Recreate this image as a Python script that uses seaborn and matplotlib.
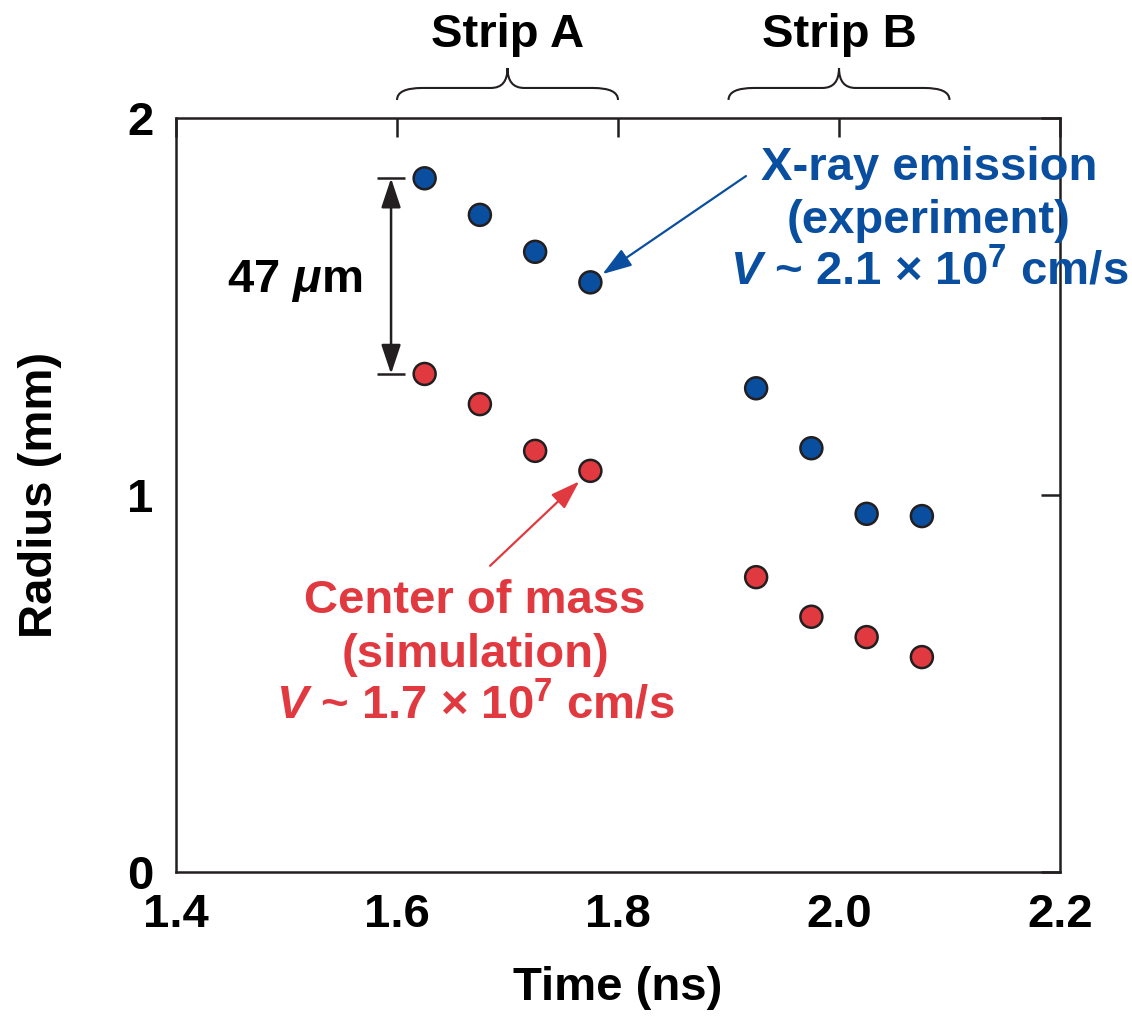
import numpy as np
import pandas as pd
import matplotlib
matplotlib.use("Agg")
import matplotlib.pyplot as plt
import seaborn as sns
from matplotlib.path import Path
from matplotlib.patches import PathPatch
from matplotlib.transforms import blended_transform_factory

# ---------------- data ----------------
time_ns = [1.625, 1.675, 1.725, 1.775, 1.925, 1.975, 2.025, 2.075]
xray_radius = [1.840, 1.743, 1.645, 1.564, 1.283, 1.124, 0.950, 0.944]
com_radius = [1.321, 1.241, 1.117, 1.064, 0.782, 0.677, 0.623, 0.570]
series_names = ["X-ray emission (experiment)", "Center of mass (simulation)"]
x_ticks = [1.4, 1.6, 1.8, 2.0, 2.2]
x_tick_labels = ["1.4", "1.6", "1.8", "2.0", "2.2"]
y_ticks = [0, 1, 2]
y_tick_labels = ["0", "1", "2"]
strip_names = ["Strip A", "Strip B"]
strip_ranges = [(1.6, 1.8), (1.9, 2.1)]
blue_lines = ["X-ray emission", "(experiment)", r"$V$ ~ 2.1 $\mathsf{×}$ $10^{7}$ cm/s"]
red_lines = ["Center of mass", "(simulation)", r"$V$ ~ 1.7 $\mathsf{×}$ $10^{7}$ cm/s"]
gap_label = r"47 $\mu$m"

BLUE = "#0a4f9f"
RED = "#e03a40"
INK = "#231f20"
FS = 34

sns.set_style("white")
plt.rcParams["font.family"] = ["Liberation Sans", "DejaVu Sans"]
plt.rcParams["font.weight"] = "bold"
plt.rcParams["mathtext.fontset"] = "custom"
plt.rcParams["mathtext.rm"] = "Liberation Sans:bold"
plt.rcParams["mathtext.it"] = "Liberation Sans:bold:italic"
plt.rcParams["mathtext.bf"] = "Liberation Sans:bold"
plt.rcParams["mathtext.sf"] = "Liberation Sans"

df = pd.DataFrame({
    "Time": time_ns * 2,
    "Radius": xray_radius + com_radius,
    "Series": [series_names[0]] * len(time_ns) + [series_names[1]] * len(time_ns),
})

fig = plt.figure(figsize=(11.32, 10.17), dpi=100)
ax = fig.add_axes([0.1555, 0.1426, 0.7809, 0.7414])

sns.scatterplot(data=df, x="Time", y="Radius", hue="Series",
                palette={series_names[0]: BLUE, series_names[1]: RED},
                s=250, edgecolor=INK, linewidth=1.8, legend=False, ax=ax, zorder=3)

ax.set_xlim(1.4, 2.2)
ax.set_ylim(0, 2)
ax.set_xticks(x_ticks)
ax.set_xticklabels(x_tick_labels)
ax.set_yticks(y_ticks)
ax.set_yticklabels(y_tick_labels)
ax.tick_params(direction="in", length=13.5, width=1.8, top=True, right=True,
               labeltop=False, labelright=False, labelsize=FS, color=INK,
               labelcolor="black")
ax.tick_params(axis="x", pad=15)
ax.tick_params(axis="y", pad=16)
for lab in ax.get_xticklabels() + ax.get_yticklabels():
    lab.set_fontweight("bold")
for s in ax.spines.values():
    s.set_visible(True)
    s.set_linewidth(1.8)
    s.set_color(INK)

ax.set_xlabel("Time (ns)", fontsize=FS, fontweight="bold", color="black")
ax.set_ylabel("Radius (mm)", fontsize=FS, fontweight="bold", color="black")
ax.xaxis.set_label_coords(0.5, -0.125)
ax.yaxis.set_label_coords(-0.129, 0.5)

# ---------------- strip braces ----------------
trans = blended_transform_factory(ax.transData, ax.transAxes)
yb, yh, yt = 1.0239, 1.0398, 1.0663
r_end, r_tip = 0.023, 0.015
for name, (x0, x1) in zip(strip_names, strip_ranges):
    xc = (x0 + x1) / 2
    verts = [(x0, yb), (x0, yh), (x0 + r_end, yh),
             (xc - r_tip, yh),
             (xc, yh), (xc, yt),
             (xc, yh), (xc + r_tip, yh),
             (x1 - r_end, yh),
             (x1, yh), (x1, yb)]
    codes = [Path.MOVETO, Path.CURVE3, Path.CURVE3,
             Path.LINETO,
             Path.CURVE3, Path.CURVE3,
             Path.CURVE3, Path.CURVE3,
             Path.LINETO,
             Path.CURVE3, Path.CURVE3]
    ax.add_patch(PathPatch(Path(verts, codes), transform=trans, fill=False,
                           edgecolor=INK, linewidth=1.5, clip_on=False))
    ax.text(xc, 1.0942, name, transform=trans, ha="center", va="baseline",
            fontsize=FS, fontweight="bold", color="black", clip_on=False)

# ---------------- 47 um bracket ----------------
xm = 1.5946
ax.annotate("", xy=(xm, xray_radius[0]), xytext=(xm, com_radius[0]),
            arrowprops=dict(arrowstyle="<|-|>,head_length=0.9,head_width=0.3",
                            color=INK, lw=1.8, shrinkA=0, shrinkB=0,
                            mutation_scale=20))
for yv in (xray_radius[0], com_radius[0]):
    ax.plot([xm - 0.013, xm + 0.013], [yv, yv], color=INK, lw=1.8,
            solid_capstyle="butt")
ax.text(1.5077, 1.5385, gap_label, ha="center", va="baseline",
        fontsize=FS, fontweight="bold", color="black")

# ---------------- annotations ----------------
ax.annotate("", xy=(time_ns[3], xray_radius[3]), xytext=(1.9158, 1.846),
            arrowprops=dict(arrowstyle="-|>,head_length=0.9,head_width=0.3",
                            color=BLUE, lw=1.6, shrinkA=0, shrinkB=10.5,
                            mutation_scale=20))
ax.annotate("", xy=(time_ns[3], com_radius[3]), xytext=(1.6842, 0.812),
            arrowprops=dict(arrowstyle="-|>,head_length=0.9,head_width=0.3",
                            color=RED, lw=1.6, shrinkA=0, shrinkB=11,
                            mutation_scale=20))

for line, yv in zip(blue_lines, [1.8355, 1.6950, 1.5570]):
    ax.text(2.0814, yv, line, ha="center", va="baseline", fontsize=FS,
            fontweight="bold", color=BLUE, clip_on=False)
for line, yv in zip(red_lines, [0.687, 0.5438, 0.4058]):
    ax.text(1.6706, yv, line, ha="center", va="baseline", fontsize=FS,
            fontweight="bold", color=RED)

fig.savefig("out.png", dpi=100)
